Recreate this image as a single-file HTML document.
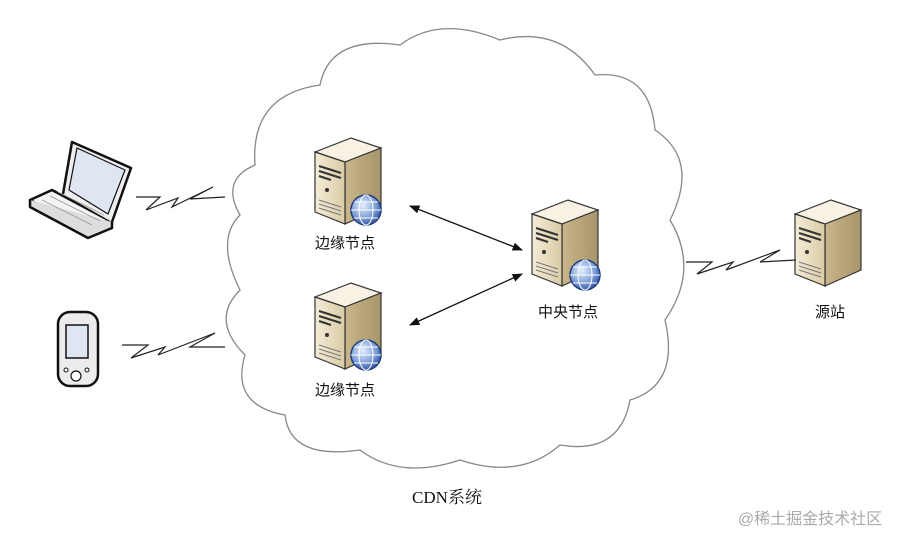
<!DOCTYPE html>
<html><head><meta charset="utf-8"><style>
html,body{margin:0;padding:0;background:#fff}
svg{display:block}
text{font-family:"Liberation Sans","Noto Sans CJK SC",sans-serif;fill:#111}
</style></head><body>
<svg width="897" height="535" viewBox="0 0 897 535" xmlns="http://www.w3.org/2000/svg">
<defs>
<linearGradient id="fr" x1="0" x2="1"><stop offset="0" stop-color="#f4ecd6"/><stop offset="1" stop-color="#d9cba6"/></linearGradient>
<linearGradient id="sd" x1="0" x2="1"><stop offset="0" stop-color="#c9b68a"/><stop offset="1" stop-color="#a8946a"/></linearGradient>
<radialGradient id="gl" cx="0.4" cy="0.35" r="0.7"><stop offset="0" stop-color="#e8f0ff"/><stop offset="0.6" stop-color="#7d9fd8"/><stop offset="1" stop-color="#2c4f9a"/></radialGradient>
<g id="srv">
<path d="M0,14 L36,0 L66,10 L30,24 Z" fill="#f7f2e4" stroke="#333" stroke-width="1.2"/>
<path d="M30,24 L66,10 L66,70 L30,86 Z" fill="url(#sd)" stroke="#333" stroke-width="1.2"/>
<path d="M0,14 L30,24 L30,86 L0,74 Z" fill="url(#fr)" stroke="#333" stroke-width="1.2"/>
<path d="M4,28 L26,35 M4,33 L26,40 M4,38 L16,42" stroke="#333" stroke-width="2"/>
<circle cx="12" cy="52" r="2" fill="#333"/>
<path d="M4,62 L26,69 M4,66 L26,73 M4,70 L26,77" stroke="#777" stroke-width="1"/>
</g>
<g id="glb">
<circle r="15" fill="url(#gl)" stroke="#1f3e80" stroke-width="1.5"/>
<ellipse rx="7" ry="15" fill="none" stroke="#fff" stroke-width="1"/>
<path d="M-15,0 H15 M-12,-8 H12 M-12,8 H12" stroke="#fff" stroke-width="1" fill="none"/>
</g>
<marker id="ah" viewBox="0 0 10 10" refX="9" refY="5" markerWidth="8" markerHeight="8" orient="auto-start-reverse"><path d="M0,1 L10,5 L0,9 Z" fill="#111"/></marker>
</defs>

<path d="M255,165 Q250,95 320,85 Q330,35 400,45 Q440,15 500,40 Q560,25 595,75 Q650,70 655,130 Q700,160 670,220 Q700,270 665,320 Q680,385 630,400 Q620,455 560,445 Q520,480 460,460 Q400,480 360,450 Q290,460 285,415 Q230,405 245,355 Q210,320 240,290 Q215,240 240,215 Q220,180 255,165 Z" fill="#fff" stroke="#888" stroke-width="1.3"/>

<use href="#srv" x="315" y="138"/>
<use href="#glb" x="366" y="210"/>
<use href="#srv" x="315" y="283"/>
<use href="#glb" x="366" y="355"/>
<use href="#srv" x="532" y="200"/>
<use href="#glb" x="585" y="275"/>
<use href="#srv" x="795" y="200"/>

<text x="345" y="248" font-size="15" text-anchor="middle">边缘节点</text>
<text x="345" y="395" font-size="15" text-anchor="middle">边缘节点</text>
<text x="568" y="317" font-size="15" text-anchor="middle">中央节点</text>
<text x="830" y="317" font-size="15" text-anchor="middle">源站</text>
<text x="447" y="503" font-size="17" text-anchor="middle" style="font-family:'Liberation Serif','Noto Serif CJK SC',serif">CDN系统</text>
<text x="810" y="524" font-size="16" text-anchor="middle" style="fill:#aaa">@稀土掘金技术社区</text>

<line x1="410" y1="206" x2="522" y2="250" stroke="#111" stroke-width="1.3" marker-start="url(#ah)" marker-end="url(#ah)"/>
<line x1="410" y1="325" x2="522" y2="274" stroke="#111" stroke-width="1.3" marker-start="url(#ah)" marker-end="url(#ah)"/>

<g fill="none" stroke="#222" stroke-width="1.2">
<path d="M136,197 H160 L146,210 L178,198 L172,207 L213,187 L190,199 L225,197"/>
<path d="M122,345 H148 L131,358 L165,347 L158,355 L215,333 L190,347 L225,347"/>
<path d="M686,262 H712 L697,274 L733,262 L726,270 L780,250 L760,262 L796,260"/>
</g>

<!-- laptop -->
<g stroke="#111" stroke-width="2.5" stroke-linejoin="round">
<path d="M30,200 L90,232 L112,222 L52,190 Z" fill="#f4f4f4"/>
<path d="M30,200 L30,207 L88,238 L112,228 L112,222" fill="#ddd"/>
<path d="M63,194 L72,142 L131,168 L112,222" fill="#eee"/>
<path d="M69,190 L77,148 L125,170 L108,214 Z" fill="#dfe6f2" stroke-width="1.2"/>
</g>
<g stroke="#999" stroke-width="0.8"><path d="M42,200 L92,225 M50,196 L100,221 M58,192 L104,215"/></g>
<!-- phone -->
<rect x="58" y="312" width="40" height="74" rx="12" fill="#ececec" stroke="#111" stroke-width="2.5"/>
<rect x="66" y="325" width="22" height="33" fill="#dde6f2" stroke="#111" stroke-width="1.5"/>
<circle cx="76" cy="376" r="5" fill="#fff" stroke="#111" stroke-width="1.2"/>
<circle cx="66" cy="370" r="2" fill="#fff" stroke="#111"/>
<circle cx="87" cy="370" r="2" fill="#fff" stroke="#111"/>
</svg>
</body></html>
